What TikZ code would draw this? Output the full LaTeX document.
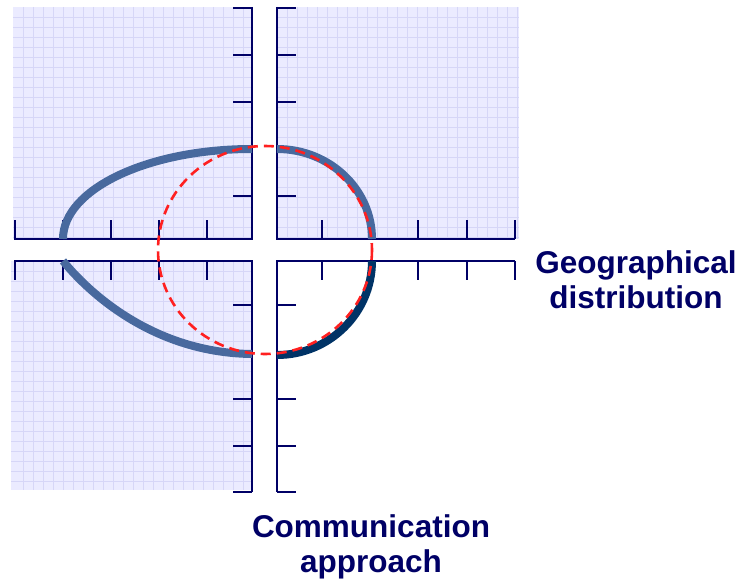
\documentclass[tikz,border=0pt]{standalone}
\usepackage{fontspec}
\setmainfont{Liberation Sans}
\definecolor{axisnavy}{HTML}{000066}
\definecolor{curveblue}{HTML}{48699E}
\definecolor{curvedark}{HTML}{003366}
\definecolor{paper}{HTML}{EBEBFF}
\definecolor{paperline}{HTML}{D6D6F7}
\definecolor{circred}{HTML}{FF2020}
\tikzset{
  panel/.style={fill=paper},
  paperlines/.style={draw=paperline, line width=0.5pt},
  axisline/.style={draw=axisnavy, line width=2pt},
  tickline/.style={draw=axisnavy, line width=1.5pt},
  shadecurve/.style={draw=curveblue, line width=8pt},
  solidcurve/.style={draw=curvedark, line width=8pt},
  circdash/.style={draw=circred, line width=2.6pt, dash pattern=on 10pt off 6pt},
  axislabel/.style={text=axisnavy, font=\bfseries\fontsize{31.5}{35}\selectfont, align=center, inner sep=0pt}
}

\begin{document}
\begin{tikzpicture}[x=1pt, y=-1pt]
    \useasboundingbox (0,0) rectangle (742,585);
    % shaded panels with grid paper
    \fill[panel] (13,7) rectangle (252,239);
    \fill[panel] (277,7) rectangle (519,239);
    \fill[panel] (11,261) rectangle (252,490);
    \foreach \x in {23,33,...,243} {
        \draw[paperlines] (\x,7) -- (\x,239);
        \draw[paperlines] (\x,261) -- (\x,490);
    }
    \foreach \x in {287,297,...,517} \draw[paperlines] (\x,7) -- (\x,239);
    \foreach \y in {17,27,...,237} {
        \draw[paperlines] (13,\y) -- (252,\y);
        \draw[paperlines] (277,\y) -- (519,\y);
    }
    \foreach \y in {271,281,...,481} \draw[paperlines] (11,\y) -- (252,\y);
    % ticks
    \foreach \x in {15,63,111,159,207} {
        \draw[tickline] (\x,239) -- (\x,220);
        \draw[tickline] (\x,261) -- (\x,280);
    }
    \foreach \x in {322,370,418,467,515} {
        \draw[tickline] (\x,239) -- (\x,220);
        \draw[tickline] (\x,261) -- (\x,280);
    }
    \foreach \y in {8,55,102,149,196} {
        \draw[tickline] (252,\y) -- (233,\y);
        \draw[tickline] (277,\y) -- (296,\y);
    }
    \foreach \y in {305,353,399,446,492} {
        \draw[tickline] (252,\y) -- (233,\y);
        \draw[tickline] (277,\y) -- (296,\y);
    }
    % axes
    \draw[axisline] (252,7) -- (252,239) -- (14,239);
    \draw[axisline] (277,7) -- (277,239) -- (515,239);
    \draw[axisline] (14,261) -- (252,261) -- (252,492);
    \draw[axisline] (515,261) -- (277,261) -- (277,492);
    % curves
    \draw[shadecurve] (252,149) arc[start angle=-90, end angle=-180, x radius=189, y radius=90];
    \draw[shadecurve] (277,149) arc[start angle=-90, end angle=0, x radius=95, y radius=90];
    \draw[shadecurve] (63,261) .. controls (95,300) and (160,353) .. (252,354);
    \draw[solidcurve] (372,261) arc[start angle=0, end angle=90, x radius=95, y radius=94];
    \draw[circdash] (265,250) ellipse[x radius=107, y radius=104];
    % labels
    \node[axislabel] (geo) at (636,280) {Geographical\\distribution};
    \node[axislabel] (comm) at (371,547) {Communication\\approach};
\end{tikzpicture}
\end{document}
